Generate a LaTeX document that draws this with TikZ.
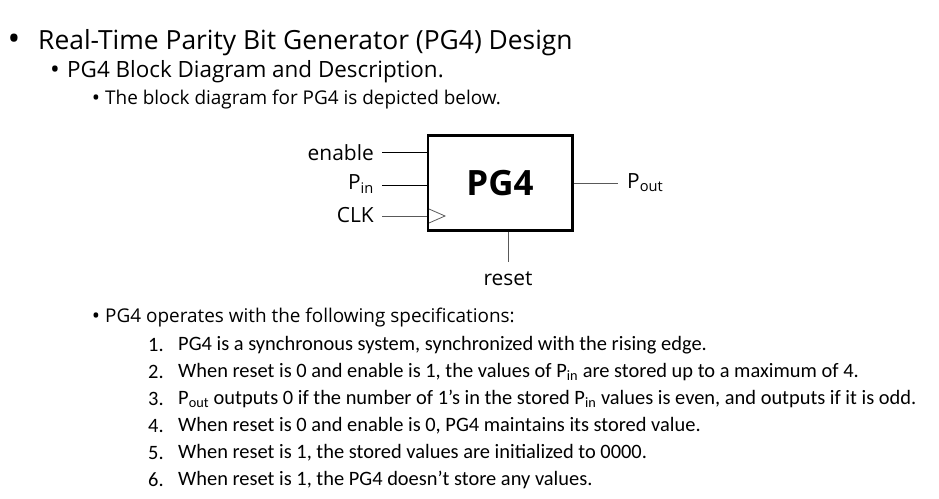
\documentclass[tikz,border=0pt]{standalone}
\usepackage{fontspec}
\setmainfont{Open Sans}
\newfontfamily\listfont{Carlito}
\begin{document}
\begin{tikzpicture}[x=1bp,y=-1bp,
  t1/.style={anchor=west,font=\fontsize{26.5}{30}\selectfont,inner sep=0},
  t2/.style={anchor=west,font=\fontsize{22.5}{24}\selectfont,inner sep=0},
  t3/.style={anchor=west,font=\fontsize{19}{20}\selectfont,inner sep=0},
  t4/.style={anchor=west,font=\listfont\fontsize{20.5}{22}\selectfont,inner sep=0},
  bul/.style={anchor=center,inner sep=0},
  lab/.style={font=\fontsize{21}{22}\selectfont,inner sep=0},
  wire/.style={line width=1pt}]
\useasboundingbox (0,0) rectangle (939,499);
\node[bul,font=\fontsize{34}{34}\selectfont] (b1) at (14,42) {•};
\node[t1] (title) at (38,43) {Real-Time Parity Bit Generator (PG4) Design};
\node[bul,font=\fontsize{26}{26}\selectfont] (b2) at (55,72) {•};
\node[t2] (sub) at (67,72) {PG4 Block Diagram and Description.};
\node[bul,font=\fontsize{22}{22}\selectfont] (b3) at (96,100) {•};
\node[t3] (s1) at (105,100) {The block diagram for PG4 is depicted below.};
% block
\node[draw,line width=3pt,minimum width=144bp,minimum height=95bp,inner sep=0,
  font=\fontsize{35}{36}\selectfont\bfseries] (pg) at (500,183) {PG4};
\coordinate (en) at (382,153);
\coordinate (pin) at (382,185);
\coordinate (clk) at (382,216);
\coordinate (po) at (618,183);
\coordinate (rs) at (508,262);
\draw[wire] (en) -- (en -| pg.west);
\draw[wire] (pin) -- (pin -| pg.west);
\draw[wire,gray!70!black] (clk) -- (clk -| pg.west);
\draw[wire,gray!70!black] (po -| pg.east) -- (po);
\draw[wire,gray!70!black] (rs |- pg.south) -- (rs);
\draw[line width=0.8pt,gray!70!black] (429,209) -- (445,216) -- (429,223);
\node[lab,anchor=east] (len) at (374,153) {enable};
\node[lab,anchor=east] (lpin) at (374,184) {P\textsubscript{in}};
\node[lab,anchor=east] (lclk) at (374,215) {CLK};
\node[lab,anchor=west] (lpo) at (627,183) {P\textsubscript{out}};
\node[lab] (lrs) at (508,279) {reset};
% specs
\node[bul,font=\fontsize{22}{22}\selectfont] (b4) at (96,318) {•};
\node[t3] (s2) at (105,318) {PG4 operates with the following specifications:};
\foreach \n/\y/\txt in {1/345/{PG4 is a synchronous system, synchronized with the rising edge.},
 2/372/{When reset is 0 and enable is 1, the values of P\textsubscript{in} are stored up to a maximum of 4.},
 3/399/{P\textsubscript{out} outputs 0 if the number of 1’s in the stored P\textsubscript{in} values is even, and outputs if it is odd.},
 4/426/{When reset is 0 and enable is 0, PG4 maintains its stored value.},
 5/453/{When reset is 1, the stored values are initialized to 0000.},
 6/480/{When reset is 1, the PG4 doesn’t store any values.}}{
  \node[t4] (n\n) at (148,\y) {\n.};
  \node[t4] (i\n) at (178,\y) {\txt};
}
\end{tikzpicture}
\end{document}
